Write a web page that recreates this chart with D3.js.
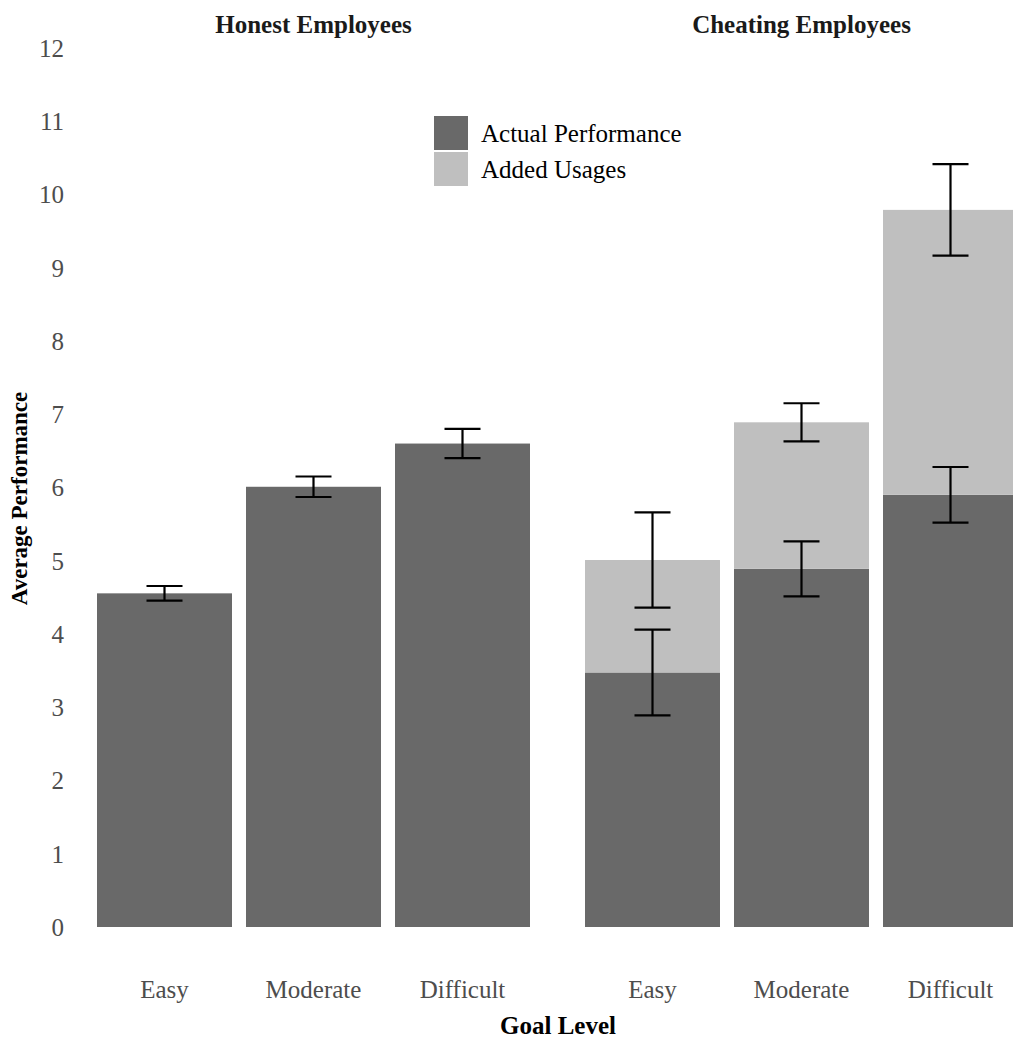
<!DOCTYPE html>
<html>
<head>
<meta charset="utf-8">
<script src="https://cdn.jsdelivr.net/npm/d3@7"></script>
<style>
  html, body { margin: 0; padding: 0; background: #fff; }
  svg { display: block; }
  text { font-family: "Liberation Serif", "Times New Roman", serif; }
</style>
</head>
<body>
<div id="chart"></div>
<script>
// ---- data ----
const panels = ["Honest Employees", "Cheating Employees"];
const goalLevels = ["Easy", "Moderate", "Difficult"];
const honestActual = [4.555, 6.01, 6.60];
const honestActualErr = [0.10, 0.14, 0.20];
const cheatingActual = [3.475, 4.89, 5.90];
const cheatingAdded = [1.535, 2.00, 3.89];
const cheatingActualErr = [0.585, 0.375, 0.38];
const cheatingTotalErr = [0.65, 0.26, 0.625];
const yTicks = [0, 1, 2, 3, 4, 5, 6, 7, 8, 9, 10, 11, 12];
const legendLabels = ["Actual Performance", "Added Usages"];

// ---- layout ----
const W = 1013, H = 1038;
const colors = { actual: "#696969", added: "#bfbfbf" };
const svg = d3.select("#chart").append("svg").attr("width", W).attr("height", H);

const y = d3.scaleLinear().domain([0, 12]).range([927, 48]);

const panelRanges = [[90, 537], [578, 1025]];
const xScales = panelRanges.map(r =>
  d3.scaleBand().domain(goalLevels).range(r).paddingInner(0.094).paddingOuter(0.047));

svg.append("defs").append("clipPath").attr("id", "clip")
  .append("rect").attr("x", 0).attr("y", 0).attr("width", W).attr("height", H);

// y axis
const yAxis = d3.axisLeft(y).tickValues(yTicks).tickSize(0).tickPadding(0);
const gy = svg.append("g").attr("transform", "translate(64,0)").call(yAxis);
gy.select(".domain").remove();
gy.selectAll("text").attr("font-size", 25).attr("fill", "#4d4d4d").attr("dy", "0.33em");

svg.append("text")
  .attr("transform", `translate(27,${(y(0) + y(12)) / 2 + 11}) rotate(-90)`)
  .attr("text-anchor", "middle").attr("font-size", 23).attr("font-weight", "bold")
  .attr("fill", "#000").text("Average Performance");

const datasets = [
  goalLevels.map((g, i) => ({ g, actual: honestActual[i], added: 0, errA: honestActualErr[i], errT: null })),
  goalLevels.map((g, i) => ({ g, actual: cheatingActual[i], added: cheatingAdded[i], errA: cheatingActualErr[i], errT: cheatingTotalErr[i] }))
];

const capW = 36;
panels.forEach((title, p) => {
  const x = xScales[p];
  const g = svg.append("g").attr("clip-path", "url(#clip)");
  const data = datasets[p];

  g.selectAll("rect.actual").data(data).enter().append("rect")
    .attr("x", d => x(d.g)).attr("width", x.bandwidth())
    .attr("y", d => y(d.actual)).attr("height", d => y(0) - y(d.actual))
    .attr("fill", colors.actual);
  g.selectAll("rect.added").data(data.filter(d => d.added > 0)).enter().append("rect")
    .attr("x", d => x(d.g)).attr("width", x.bandwidth())
    .attr("y", d => y(d.actual + d.added)).attr("height", d => y(d.actual) - y(d.actual + d.added))
    .attr("fill", colors.added);

  const errs = [];
  data.forEach(d => {
    errs.push({ g: d.g, m: d.actual, e: d.errA });
    if (d.errT != null) errs.push({ g: d.g, m: d.actual + d.added, e: d.errT });
  });
  const cx = d => x(d.g) + x.bandwidth() / 2;
  const eg = g.selectAll("g.err").data(errs).enter().append("g")
    .attr("stroke", "#000").attr("stroke-width", 2.2);
  eg.append("line").attr("x1", cx).attr("x2", cx)
    .attr("y1", d => y(d.m - d.e)).attr("y2", d => y(d.m + d.e));
  eg.append("line")
    .attr("x1", d => cx(d) - capW / 2).attr("x2", d => cx(d) + capW / 2)
    .attr("y1", d => y(d.m + d.e)).attr("y2", d => y(d.m + d.e));
  eg.append("line")
    .attr("x1", d => cx(d) - capW / 2).attr("x2", d => cx(d) + capW / 2)
    .attr("y1", d => y(d.m - d.e)).attr("y2", d => y(d.m - d.e));

  const xAxis = d3.axisBottom(x).tickSize(0).tickPadding(0);
  const gx = svg.append("g").attr("transform", "translate(0,998)").call(xAxis);
  gx.select(".domain").remove();
  gx.selectAll("text").attr("font-size", 25).attr("fill", "#4d4d4d").attr("dy", 0);

  const r = x.range();
  svg.append("text").attr("x", (r[0] + r[1]) / 2).attr("y", 33)
    .attr("text-anchor", "middle").attr("font-size", 25).attr("font-weight", "bold")
    .attr("fill", "#1a1a1a").text(title);
});

svg.append("text").attr("x", 558).attr("y", 1034).attr("text-anchor", "middle")
  .attr("font-size", 25).attr("font-weight", "bold").attr("fill", "#000").text("Goal Level");

// legend
const lg = svg.append("g").attr("transform", "translate(434,116)");
const legendColors = [colors.actual, colors.added];
legendLabels.forEach((lab, i) => {
  lg.append("rect").attr("x", 0).attr("y", i * 36).attr("width", 34).attr("height", 34)
    .attr("fill", legendColors[i]);
  lg.append("text").attr("x", 47).attr("y", i * 36 + 17).attr("dy", "0.35em")
    .attr("font-size", 25).attr("fill", "#000").text(lab);
});
</script>
</body>
</html>
